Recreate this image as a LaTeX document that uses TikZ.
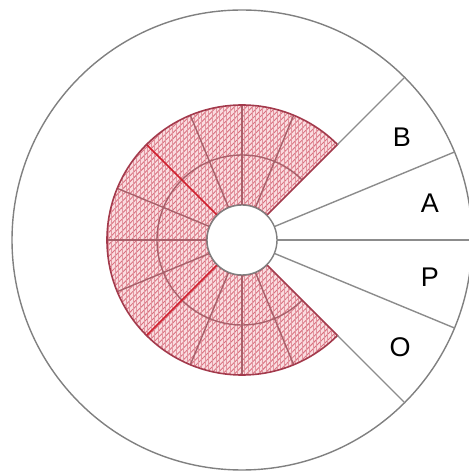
\documentclass[tikz,border=0pt]{standalone}
\usepackage{fontspec}
\setmainfont{Liberation Sans}
\usetikzlibrary{patterns.meta}
\definecolor{ringgray}{HTML}{808080}
\definecolor{linegray}{HTML}{8C8C8C}
\definecolor{hatchfill}{HTML}{FADDE0}
\definecolor{hatchline}{HTML}{D9707F}
\definecolor{edgered}{HTML}{A33A4C}
\definecolor{gridred}{HTML}{A8606A}
\definecolor{sepred}{HTML}{D0202E}
\begin{document}
\begin{tikzpicture}[x=1pt,y=1pt,
  ring/.style={draw=ringgray, line width=1.4pt},
  divider/.style={draw=linegray, line width=1.4pt},
  gridline/.style={draw=gridred, line width=1.4pt},
  sepline/.style={draw=sepred, line width=1.7pt},
  edgeline/.style={draw=edgered, line width=1.6pt},
  lbl/.style={font=\fontsize{27}{27}\selectfont, text=black, inner sep=0pt}]
\useasboundingbox (0,0) rectangle (469,472);
\fill[white] (0,0) rectangle (469,472);
\begin{scope}[shift={(242,232)}]
  \draw[ring] (0,0) circle (230pt);
  % hatched C-shaped region
  \def\cregion{(45:35pt) -- (45:135pt) arc[start angle=45,end angle=315,radius=135pt] -- (315:35pt) arc[start angle=315,end angle=45,radius=35pt] -- cycle}
  \path[fill=hatchfill] \cregion;
  \path[pattern={Lines[angle=45, distance=4.2pt, line width=0.9pt]}, pattern color=hatchline] \cregion;
  \path[pattern={Lines[angle=90, distance=3.6pt, line width=0.7pt]}, pattern color=hatchline!75] \cregion;
  % grid in each sector
  \foreach \m in {90,180,270} {
    \draw[gridline] (\m-22.5:35pt) -- (\m-22.5:135pt);
    \draw[gridline] (\m:35pt) -- (\m:135pt);
    \draw[gridline] (\m+22.5:35pt) -- (\m+22.5:135pt);
    \draw[gridline] (\m-45:85pt) arc[start angle=\m-45,end angle=\m+45,radius=85pt];
  }
  \draw[sepline] (135:35pt) -- (135:135pt);
  \draw[sepline] (225:35pt) -- (225:135pt);
  \draw[edgeline] \cregion;
  % dividers on the right
  \draw[divider] (45:135pt) -- (45:230pt);
  \draw[divider] (-45:135pt) -- (-45:230pt);
  \draw[divider] (22.5:35pt) -- (22.5:230pt);
  \draw[divider] (0:35pt) -- (0:230pt);
  \draw[divider] (-22.5:35pt) -- (-22.5:230pt);
  % central hole
  \draw[ring, fill=white] (0,0) circle (35pt);
\end{scope}
\node[lbl] (B) at (402,335) {B};
\node[lbl] (A) at (430,269) {A};
\node[lbl] (P) at (430,195) {P};
\node[lbl] (O) at (400,125) {O};
\end{tikzpicture}
\end{document}
